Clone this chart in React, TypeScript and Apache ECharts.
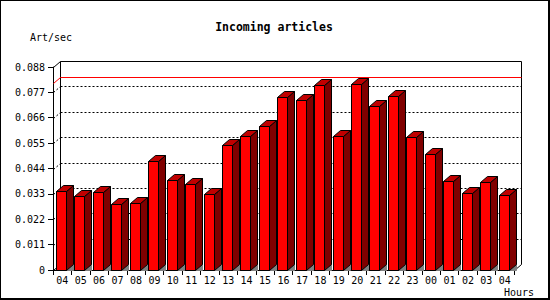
import React, { useEffect, useRef } from "react";
import * as echarts from "echarts";

const hours = ["04","05","06","07","08","09","10","11","12","13","14","15","16","17","18","19","20","21","22","23","00","01","02","03","04"];
const rates = [0.0342,0.0319,0.0337,0.0286,0.0290,0.0471,0.0389,0.0373,0.0328,0.0541,0.0581,0.0623,0.0751,0.0737,0.0801,0.0581,0.0805,0.0710,0.0753,0.0577,0.0502,0.0385,0.0332,0.0380,0.0324];
const yTicks = [0, 0.011, 0.022, 0.033, 0.044, 0.055, 0.066, 0.077, 0.088];
const maxRate = 0.0811;
const titleText = "Incoming articles";
const yName = "Art/sec";
const xName = "Hours";

const DX = 7;
const DY = 6;
const MONO = "DejaVu Sans Mono";

const px = (v: number) => Math.round(v) + 0.5;

export default function App() {
  const ref = useRef<HTMLDivElement>(null);
  useEffect(() => {
    if (!ref.current) return;
    const chart = echarts.init(ref.current, null, { renderer: "svg" });
    const yMin = yTicks[0];
    const yMax = yTicks[yTicks.length - 1];
    const N = hours.length;
    const inner = yTicks.slice(1, -1);

    const edges = (api: any) => {
      const band = api.size([1, 0])[0];
      const xl = px(api.coord([0, yMin])[0] - band / 2);
      const xr = px(api.coord([N - 1, yMin])[0] + band / 2);
      const yb = px(api.coord([0, yMin])[1]);
      const yt = px(api.coord([0, yMax])[1]);
      return { band, xl, xr, yb, yt };
    };

    const lineEl = (x1: number, y1: number, x2: number, y2: number, stroke: string, dash?: number[]) => ({
      type: "line",
      shape: { x1, y1, x2, y2 },
      style: { stroke, lineWidth: 1, lineDash: dash, fill: null },
    });

    const option: any = {
      animation: false,
      backgroundColor: "#fff",
      grid: { left: 53, top: 67, width: 461, height: 203 },
      xAxis: {
        type: "category",
        data: hours,
        boundaryGap: true,
        axisLine: { lineStyle: { color: "#000", width: 1 } },
        axisTick: { show: true, length: 5, interval: 0, lineStyle: { color: "#000" } },
        axisLabel: { interval: 0, margin: 5, color: "#000", fontFamily: MONO, fontSize: 10 },
        splitLine: { show: false },
      },
      yAxis: {
        type: "value",
        min: yMin,
        max: yMax,
        interval: 0.011,
        axisLine: { show: true, lineStyle: { color: "#000", width: 1 } },
        axisTick: { show: true, length: 5, lineStyle: { color: "#000" } },
        axisLabel: {
          margin: 8,
          color: "#000",
          fontFamily: MONO,
          fontSize: 10,
          formatter: (v: number) => (v === 0 ? "0" : v.toFixed(3)),
        },
        splitLine: { show: false },
      },
      series: [
        {
          type: "custom",
          z: 1,
          clip: false,
          silent: true,
          data: inner.map((v) => [0, v]),
          renderItem: (params: any, api: any) => {
            const { xl, xr } = edges(api);
            const y = px(api.coord([0, api.value(1)])[1]);
            return {
              type: "group",
              children: [
                lineEl(xl, y, xl + DX, y - DY, "#000", [2, 2]),
                lineEl(xl + DX, y - DY, xr + DX, y - DY, "#000", [2, 2]),
              ],
            };
          },
        },
        {
          type: "custom",
          z: 2,
          clip: false,
          silent: true,
          data: [[0, maxRate]],
          renderItem: (params: any, api: any) => {
            const { xl, xr, yb, yt } = edges(api);
            const ym = px(api.coord([0, api.value(1)])[1]);
            return {
              type: "group",
              children: [
                lineEl(xl, yt, xl + DX, yt - DY, "#000"),
                lineEl(xl + DX, yt - DY, xr + DX, yt - DY, "#000"),
                lineEl(xl + DX, yt - DY, xl + DX, yb - DY, "#000"),
                lineEl(xr + DX, yt - DY, xr + DX, yb - DY, "#000"),
                lineEl(xl, yb, xl + DX, yb - DY, "#000"),
                lineEl(xr, yb, xr + DX, yb - DY, "#000"),
                lineEl(xl, ym, xl + DX, ym - DY, "#ff0000"),
                lineEl(xl + DX, ym - DY, xr + DX, ym - DY, "#ff0000"),
              ],
            };
          },
        },
        {
          type: "custom",
          z: 3,
          clip: false,
          silent: true,
          data: rates.map((r, i) => [i, r]),
          encode: { x: 0, y: 1 },
          renderItem: (params: any, api: any) => {
            const idx = api.value(0);
            const v = api.value(1);
            const band = api.size([1, 0])[0];
            const topPt = api.coord([idx, v]);
            const basePt = api.coord([idx, yMin]);
            const start = basePt[0] - band / 2;
            const x1 = px(start + 3);
            const x2 = x1 + 10;
            const yt = px(topPt[1]);
            const yb = px(basePt[1]);
            const edge = { stroke: "#000", lineWidth: 1 };
            return {
              type: "group",
              children: [
                {
                  type: "polygon",
                  shape: { points: [[x2, yb], [x2 + DX, yb - DY], [x2 + DX, yb]] },
                  style: { fill: "#808080", stroke: "#808080", lineWidth: 1 },
                },
                {
                  type: "polygon",
                  shape: { points: [[x2, yt], [x2 + DX, yt - DY], [x2 + DX, yb - DY], [x2, yb]] },
                  style: { fill: "#800000", ...edge },
                },
                {
                  type: "polygon",
                  shape: { points: [[x1, yt], [x1 + DX, yt - DY], [x2 + DX, yt - DY], [x2, yt]] },
                  style: { fill: "#c00000", ...edge },
                },
                {
                  type: "rect",
                  shape: { x: x1, y: yt, width: x2 - x1, height: yb - yt },
                  style: { fill: "#ff0000", ...edge },
                },
              ],
            };
          },
        },
      ],
      graphic: [
        { type: "rect", shape: { x: 0, y: 0, width: 550, height: 1 }, style: { fill: "#000" } },
        { type: "rect", shape: { x: 0, y: 0, width: 1, height: 300 }, style: { fill: "#000" } },
        { type: "rect", shape: { x: 548, y: 0, width: 2, height: 300 }, style: { fill: "#000" } },
        { type: "rect", shape: { x: 0, y: 298, width: 550, height: 2 }, style: { fill: "#000" } },
        {
          type: "text",
          x: 274,
          y: 27,
          style: { text: titleText, fill: "#000", font: `bold 11.5px "${MONO}"`, textAlign: "center", textVerticalAlign: "middle" },
        },
        {
          type: "text",
          x: 30,
          y: 37,
          style: { text: yName, fill: "#000", font: `10px "${MONO}"`, textAlign: "left", textVerticalAlign: "middle" },
        },
        {
          type: "text",
          x: 504,
          y: 292,
          style: { text: xName, fill: "#000", font: `10px "${MONO}"`, textAlign: "left", textVerticalAlign: "middle" },
        },
      ],
    };
    chart.setOption(option);
    return () => chart.dispose();
  }, []);
  return <div ref={ref} style={{ position: "absolute", left: 0, top: 0, width: 550, height: 300 }} />;
}
